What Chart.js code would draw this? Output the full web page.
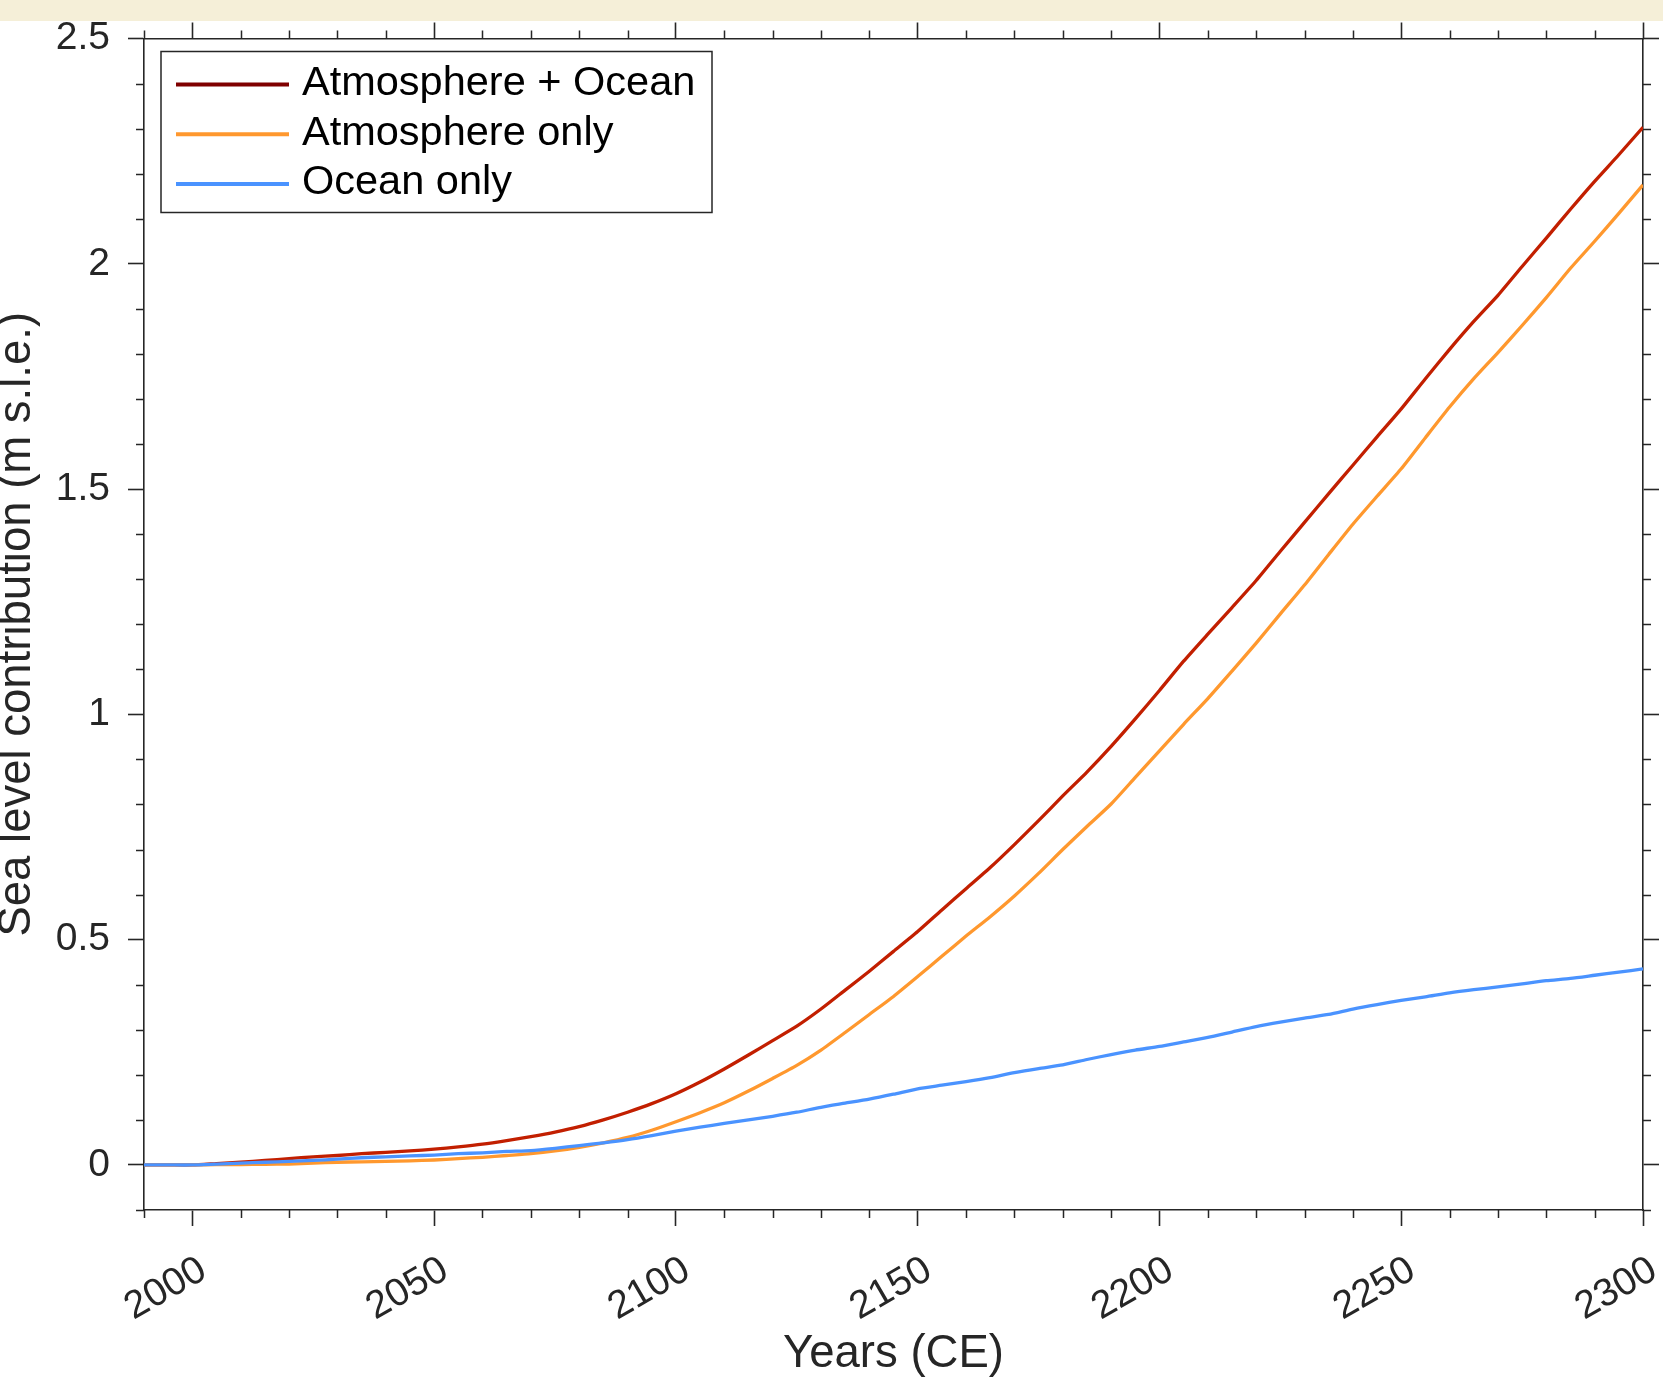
<!DOCTYPE html>
<html>
<head>
<meta charset="utf-8">
<title>Sea level contribution</title>
<script src="https://cdn.jsdelivr.net/npm/chart.js@4.4.1/dist/chart.umd.min.js"></script>
<style>
  html, body { margin: 0; padding: 0; background: #ffffff; }
  #wrap { width: 1663px; height: 1379px; position: relative; }
</style>
</head>
<body>
<div id="wrap"><canvas id="c" width="1663" height="1379"></canvas></div>
<script>
// ---- data (m sea-level equivalent, every 5 years) ----
const years = [1990, 1995, 2000, 2005, 2010, 2015, 2020, 2025, 2030, 2035, 2040, 2045, 2050, 2055, 2060, 2065,
  2070, 2075, 2080, 2085, 2090, 2095, 2100, 2105, 2110, 2115, 2120, 2125, 2130, 2135, 2140, 2145, 2150, 2155,
  2160, 2165, 2170, 2175, 2180, 2185, 2190, 2195, 2200, 2205, 2210, 2215, 2220, 2225, 2230, 2235, 2240, 2245,
  2250, 2255, 2260, 2265, 2270, 2275, 2280, 2285, 2290, 2295, 2300];

const atmosphereOcean = [0, 0, 0, 0.003, 0.006, 0.010, 0.014, 0.018, 0.021, 0.025, 0.028, 0.031, 0.035, 0.040,
  0.046, 0.054, 0.063, 0.073, 0.085, 0.100, 0.117, 0.136, 0.158, 0.184, 0.213, 0.244, 0.276, 0.308, 0.346,
  0.388, 0.430, 0.474, 0.518, 0.566, 0.613, 0.660, 0.711, 0.764, 0.819, 0.872, 0.929, 0.990, 1.053, 1.118,
  1.178, 1.237, 1.297, 1.362, 1.426, 1.490, 1.553, 1.616, 1.678, 1.745, 1.810, 1.872, 1.930, 1.994, 2.057,
  2.121, 2.183, 2.242, 2.303];

const atmosphereOnly = [0, 0, 0, 0.0005, 0.001, 0.0015, 0.002, 0.004, 0.006, 0.007, 0.008, 0.009, 0.011, 0.014,
  0.017, 0.021, 0.025, 0.031, 0.039, 0.049, 0.061, 0.077, 0.096, 0.116, 0.138, 0.164, 0.192, 0.221, 0.255,
  0.294, 0.334, 0.374, 0.418, 0.463, 0.508, 0.551, 0.597, 0.647, 0.700, 0.751, 0.801, 0.860, 0.919, 0.978,
  1.035, 1.096, 1.158, 1.223, 1.287, 1.355, 1.422, 1.484, 1.545, 1.614, 1.682, 1.745, 1.803, 1.863, 1.925,
  1.990, 2.050, 2.112, 2.175];

const oceanOnly = [0, 0, 0, 0.002, 0.004, 0.006, 0.008, 0.010, 0.013, 0.016, 0.018, 0.020, 0.022, 0.025, 0.027,
  0.030, 0.032, 0.037, 0.043, 0.049, 0.056, 0.065, 0.075, 0.084, 0.092, 0.100, 0.108, 0.117, 0.128, 0.137,
  0.146, 0.157, 0.169, 0.177, 0.185, 0.194, 0.205, 0.214, 0.222, 0.234, 0.245, 0.255, 0.263, 0.273, 0.283,
  0.295, 0.307, 0.317, 0.326, 0.334, 0.346, 0.356, 0.365, 0.373, 0.382, 0.389, 0.395, 0.402, 0.409, 0.414,
  0.421, 0.428, 0.435];

const seriesLabels = ['Atmosphere + Ocean', 'Atmosphere only', 'Ocean only'];

const xTickValues = [2000, 2050, 2100, 2150, 2200, 2250, 2300];
const xTickLabels = ['2000', '2050', '2100', '2150', '2200', '2250', '2300'];
const yTickValues = [0, 0.5, 1, 1.5, 2, 2.5];
const yTickLabels = ['0', '0.5', '1', '1.5', '2', '2.5'];

const xTitle = 'Years (CE)';
const yTitle = 'Sea level contribution (m s.l.e.)';

// ---- styling ----
const INK = '#262626';
const FONT = "'Liberation Sans', Arial, Helvetica, sans-serif";
const lineColors = ['#C21F00', '#FF982E', '#4A93FF'];
const legendColors = ['#7F0000', '#FF982E', '#4A93FF'];
const X_RANGE = [1990, 2300];
const Y_RANGE = [-0.1, 2.5];
const X_MINOR_STEP = 10;
const Y_MINOR_STEP = 0.1;

const toPoints = vals => years.map((yr, i) => ({ x: yr, y: vals[i] }));
const seriesValues = [atmosphereOcean, atmosphereOnly, oceanOnly];

const datasets = seriesValues.map((vals, i) => ({
  label: seriesLabels[i],
  data: toPoints(vals),
  borderColor: lineColors[i],
  backgroundColor: lineColors[i],
  borderWidth: 3.3,
  pointRadius: 0,
  tension: 0.2,
  fill: false,
  order: 2 - i
}));

const setMajor = (values) => (scale) => { scale.ticks = values.map(v => ({ value: v })); };
const fixSize = (prop, size) => (scale) => {
  scale[prop] = size;
  scale.paddingLeft = 0; scale.paddingRight = 0;
  scale.paddingTop = 0; scale.paddingBottom = 0;
};
const labelFor = (values, labels) => (v) => {
  const k = values.findIndex(t => Math.abs(t - v) < 1e-9);
  return k >= 0 ? labels[k] : '';
};

const tickGrid = { display: true, drawOnChartArea: false, drawTicks: true, tickLength: 16, tickWidth: 1.6, tickColor: INK };
const axisBorder = { display: true, color: INK, width: 1.6 };
const tickFont = { family: FONT, size: 39 };

// page band, minor ticks and the boxed legend
const framePlugin = {
  id: 'frame',
  beforeDraw(chart) {
    const { ctx, width, height } = chart;
    ctx.save();
    ctx.fillStyle = '#ffffff';
    ctx.fillRect(0, 0, width, height);
    ctx.fillStyle = '#F5EFD8';
    ctx.fillRect(0, 0, width, 21);
    ctx.restore();
  },
  afterDraw(chart) {
    const { ctx, chartArea: a } = chart;
    const xs = chart.scales.x, ys = chart.scales.y;
    const minorLen = 8;
    const isMajor = (v, step) => Math.abs(v / step - Math.round(v / step)) < 1e-6;
    ctx.save();
    ctx.strokeStyle = INK;
    ctx.lineWidth = 1.5;
    ctx.beginPath();
    for (let i = 0; ; i++) {
      const v = X_RANGE[0] + i * X_MINOR_STEP;
      if (v > X_RANGE[1] + 1e-9) break;
      if (isMajor(v, 50)) continue;
      const px = Math.round(xs.getPixelForValue(v)) + 0.5;
      ctx.moveTo(px, a.bottom); ctx.lineTo(px, a.bottom + minorLen);
      ctx.moveTo(px, a.top); ctx.lineTo(px, a.top - minorLen);
    }
    for (let i = 0; ; i++) {
      const v = Y_RANGE[0] + i * Y_MINOR_STEP;
      if (v > Y_RANGE[1] + 1e-9) break;
      if (isMajor(v, 0.5)) continue;
      const py = Math.round(ys.getPixelForValue(v)) + 0.5;
      ctx.moveTo(a.left, py); ctx.lineTo(a.left - minorLen, py);
      ctx.moveTo(a.right, py); ctx.lineTo(a.right + minorLen, py);
    }
    ctx.stroke();

    // legend box
    const bx = a.left + 17, by = a.top + 13, bw = 551, bh = 161;
    ctx.fillStyle = '#ffffff';
    ctx.fillRect(bx, by, bw, bh);
    ctx.strokeStyle = INK;
    ctx.lineWidth = 1.5;
    ctx.strokeRect(bx, by, bw, bh);
    ctx.font = '41.5px ' + FONT;
    ctx.textBaseline = 'middle';
    ctx.textAlign = 'left';
    seriesLabels.forEach((label, i) => {
      const ry = by + 33 + i * 49.7;
      ctx.strokeStyle = legendColors[i];
      ctx.lineWidth = 4;
      ctx.beginPath();
      ctx.moveTo(bx + 15, ry);
      ctx.lineTo(bx + 128, ry);
      ctx.stroke();
      ctx.fillStyle = '#000000';
      ctx.fillText(label, bx + 141, ry - 1);
    });
    ctx.restore();
  }
};

new Chart(document.getElementById('c'), {
  type: 'line',
  data: { datasets },
  options: {
    responsive: false,
    animation: false,
    devicePixelRatio: 1,
    layout: { padding: 0 },
    plugins: { legend: { display: false }, tooltip: { enabled: false } },
    scales: {
      x: {
        type: 'linear', position: 'bottom', min: X_RANGE[0], max: X_RANGE[1],
        afterBuildTicks: setMajor(xTickValues),
        afterFit: fixSize('height', 169),
        ticks: {
          autoSkip: false, minRotation: 30, maxRotation: 30, padding: 21, labelOffset: 11,
          color: INK, font: tickFont, callback: labelFor(xTickValues, xTickLabels)
        },
        grid: tickGrid,
        border: axisBorder,
        title: { display: true, text: xTitle, color: INK, font: { family: FONT, size: 45.5, lineHeight: 1 }, padding: { top: 0, bottom: 2 } }
      },
      x2: {
        type: 'linear', position: 'top', min: X_RANGE[0], max: X_RANGE[1],
        afterBuildTicks: setMajor(xTickValues),
        afterFit: fixSize('height', 38.5),
        ticks: { display: false },
        grid: tickGrid,
        border: axisBorder
      },
      y: {
        type: 'linear', position: 'left', min: Y_RANGE[0], max: Y_RANGE[1],
        afterBuildTicks: setMajor(yTickValues),
        afterFit: fixSize('width', 144),
        ticks: { padding: 18, color: INK, font: tickFont, callback: labelFor(yTickValues, yTickLabels) },
        grid: tickGrid,
        border: axisBorder,
        title: { display: true, text: yTitle, color: INK, font: { family: FONT, size: 45.5, lineHeight: 0.78 }, padding: 0 }
      },
      y2: {
        type: 'linear', position: 'right', min: Y_RANGE[0], max: Y_RANGE[1],
        afterBuildTicks: setMajor(yTickValues),
        afterFit: fixSize('width', 20),
        ticks: { display: false },
        grid: tickGrid,
        border: axisBorder
      }
    }
  },
  plugins: [framePlugin]
});
</script>
</body>
</html>
